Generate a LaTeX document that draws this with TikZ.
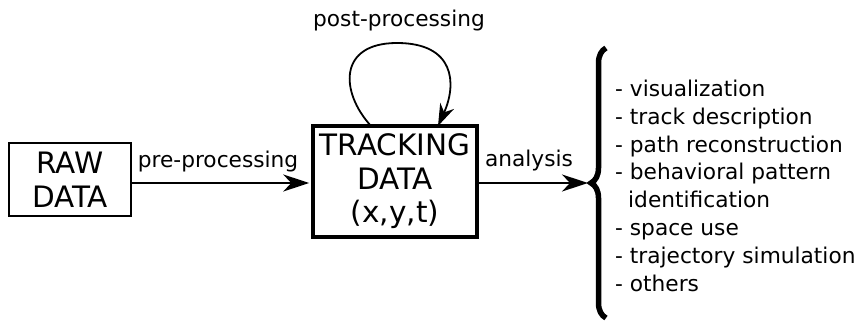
\documentclass[tikz,border=0pt]{standalone}
\usepackage{fontspec}
\setmainfont{DejaVu Sans}
\usetikzlibrary{arrows.meta,decorations.pathreplacing}
\begin{document}
\begin{tikzpicture}[x=1pt,y=-1pt,
  box/.style={draw,rectangle,inner sep=0pt,align=center,font=\fontsize{29.5}{33.5}\selectfont},
  lbl/.style={anchor=base,inner sep=0pt,font=\fontsize{21.7}{27.8}\selectfont},
  arr/.style={line width=1.9pt,-{Stealth[length=26pt,width=17pt,inset=8pt]}}]
\useasboundingbox (0,0) rectangle (862,321);
\node[box,line width=2pt,minimum width=122pt,minimum height=73pt] (raw) at (70,179.5) {RAW\\DATA};
\node[box,line width=3.5pt,minimum width=164pt,minimum height=111pt] (trk) at (395,181.5) {TRACKING\\DATA\\(x,y,t)};
\node[lbl] (pre) at (218,167) {pre-processing};
\node[lbl] (ana) at (529,166) {analysis};
\node[lbl] (post) at (399,27) {post-processing};
\coordinate (btip) at (588,183);
\coordinate (ls) at (371,126);
\coordinate (le) at (438,126);
\draw[arr] (raw.east |- 0,183) -- ([xshift=-2pt]trk.west |- 0,183);
\draw[arr] (trk.east |- 0,183) -- (btip);
\draw[line width=1.8pt,-{Stealth[length=22pt,width=15pt,inset=7pt]}] (ls) .. controls (340,92) and (338,43) .. (397,43) .. controls (455,43) and (457,84) .. (le);
\draw[line width=5.5pt,decorate,decoration={brace,amplitude=15pt,aspect=0.5}] (606,318) -- (606,48);
\node[anchor=base west,inner sep=0pt,align=left,font=\fontsize{21.7}{27.8}\selectfont] (list) at (615,291)
 {- visualization\\- track description\\- path reconstruction\\- behavioral pattern\\\hspace*{13pt}identification\\- space use\\- trajectory simulation\\- others};
\end{tikzpicture}
\end{document}
